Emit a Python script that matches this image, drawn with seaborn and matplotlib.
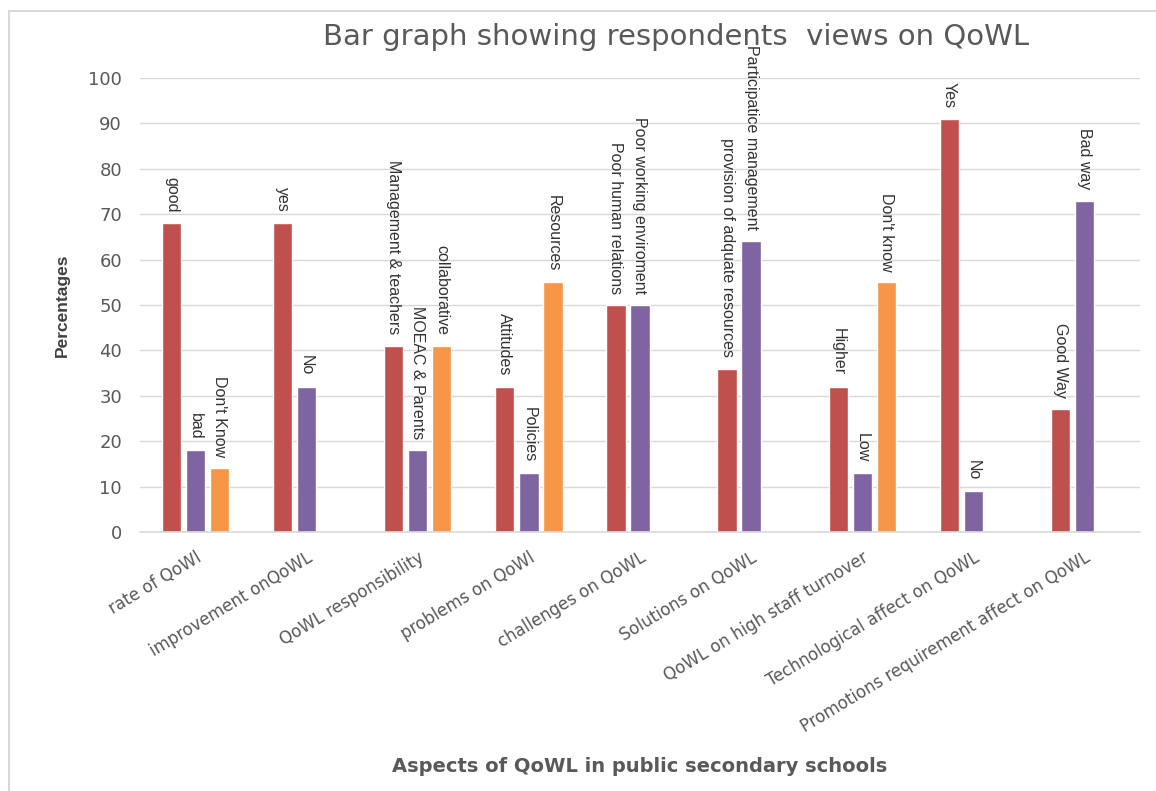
import matplotlib
matplotlib.use("Agg")
import matplotlib.pyplot as plt
from matplotlib.lines import Line2D
import seaborn as sns
import pandas as pd
import numpy as np

aspects = ["rate of QoWl", "improvement onQoWL", "QoWL responsibility", "problems on QoWl",
           "challenges on QoWL", "Solutions on QoWL", "QoWL on high staff turnover",
           "Technological affect on QoWL", "Promotions requirement affect on QoWL"]
series1 = [68, 68, 41, 32, 50, 36, 32, 91, 27]
series2 = [18, 32, 18, 13, 50, 64, 13, 9, 73]
series3 = [14, None, 41, 55, None, None, 55, None, None]
labels1 = ["good", "yes", "Management & teachers", "Attitudes", "Poor human relations",
           "provision of adquate resources", "Higher", "Yes", "Good Way"]
labels2 = ["bad", "No", "MOEAC & Parents", "Policies", "Poor working enviroment",
           "Participatice management", "Low", "No", "Bad way"]
labels3 = ["Don't Know", None, "collaborative", "Resources", None, None, "Don't know", None, None]
yticks = list(range(0, 101, 10))

series_names = ["s1", "s2", "s3"]
colors = ["#C0504D", "#8064A2", "#F79646"]

rows = []
for vals, labs, s in zip([series1, series2, series3], [labels1, labels2, labels3], series_names):
    for a, v, l in zip(aspects, vals, labs):
        if v is not None:
            rows.append({"aspect": a, "series": s, "value": v, "label": l})
df = pd.DataFrame(rows)

sns.set_style("white")
fig = plt.figure(figsize=(11.56, 7.91), dpi=100)
ax = fig.add_axes([140/1156, 1-532/791, 1000/1156, 454/791])

sns.barplot(data=df, x="aspect", y="value", hue="series", order=aspects,
            hue_order=series_names, palette=colors, width=0.65, gap=0.2,
            dodge=True, legend=False, ax=ax, errorbar=None, saturation=1)

ax.set_ylim(0, 100)
ax.set_xlim(-0.5, 8.5)
ax.set_yticks(yticks)
ax.set_yticklabels([str(t) for t in yticks], fontsize=13, color="#595959", family="DejaVu Sans")
ax.yaxis.grid(True, color="#D9D9D9", lw=1)
ax.set_axisbelow(True)
for side in ["top", "right", "left"]:
    ax.spines[side].set_visible(False)
ax.spines["bottom"].set_color("#D9D9D9")
ax.spines["bottom"].set_linewidth(1.2)
ax.tick_params(axis="y", length=0, pad=13)

ax.set_xticks(range(len(aspects)))
ax.set_xticklabels(aspects, rotation=31, ha="right", rotation_mode="anchor",
                   fontsize=12, color="#595959", family="DejaVu Sans")
ax.tick_params(axis="x", length=0, pad=12)

lab_lookup = {}
for s, labs in zip(series_names, [labels1, labels2, labels3]):
    for i, l in enumerate(labs):
        lab_lookup[(i, s)] = l

narrow = ["Liberation Sans", "DejaVu Sans"]
for cont, s in zip(ax.containers, series_names):
    for p in cont.patches:
        xc = p.get_x() + p.get_width() / 2
        h = p.get_height()
        if np.isnan(h):
            continue
        idx = int(round(xc))
        lab = lab_lookup.get((idx, s))
        if lab:
            ax.annotate(lab, (xc, h), xytext=(0, 8), textcoords="offset points",
                        rotation=270, ha="center", va="bottom", fontsize=11.5,
                        color="#333333", family=narrow, annotation_clip=False)

ax.set_xlabel("")
ax.set_ylabel("")
fig.text(640/1156, 1-767/791, "Aspects of QoWL in public secondary schools", fontsize=14,
         fontweight="bold", color="#595959", ha="center", va="center", family="DejaVu Sans")
fig.text(62/1156, 1-305/791, "Percentages", rotation=90, fontsize=12.5, fontweight="bold",
         color="#404040", ha="center", va="center", family=["Liberation Sans", "DejaVu Sans"])

fig.text(676/1156, 1-37/791, "Bar graph showing respondents  views on QoWL", fontsize=21,
         color="#595959", ha="center", va="center", family="DejaVu Sans")

fig.add_artist(Line2D([9/1156, 9/1156], [1-11/791, 0], transform=fig.transFigure,
                      color="#D9D9D9", lw=1.5))
fig.add_artist(Line2D([9/1156, 1], [1-11/791, 1-11/791], transform=fig.transFigure,
                      color="#D9D9D9", lw=1.5))

fig.savefig("out.png", dpi=100, facecolor="white")
